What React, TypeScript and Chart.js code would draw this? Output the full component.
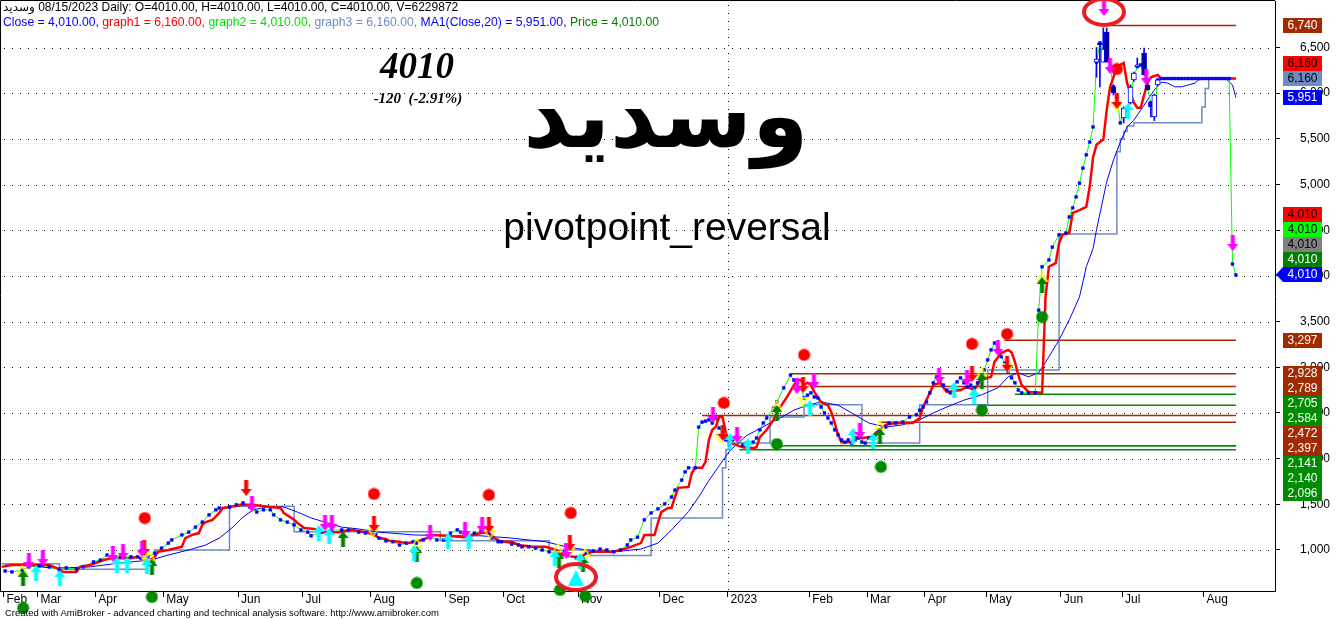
import React, { useEffect, useRef } from 'react';
import { Chart, registerables } from 'chart.js';

Chart.register(...registerables);

// ---------- DATA ----------
const monthLabels = ['Feb', 'Mar', 'Apr', 'May', 'Jun', 'Jul', 'Aug', 'Sep', 'Oct', 'Nov', 'Dec', '2023', 'Feb', 'Mar', 'Apr', 'May', 'Jun', 'Jul', 'Aug'];
const monthStartBars = [1, 11, 28, 48, 70, 89, 109, 131, 148, 170, 194, 214, 238, 255, 272, 290, 312, 330, 354];
const yearStartBar = 214;
const yTickValues = [1000, 1500, 2000, 2500, 3000, 3500, 4000, 4500, 5000, 5500, 6000, 6500];

// [bar index, close]
const closeSeries: number[][] = [
  [1, 770], [3, 760], [6, 780], [8, 815], [11, 825], [12, 835], [14, 815], [17, 780], [19, 805], [22, 790], [24, 815], [27, 870], [29, 890], [31, 945], [33, 925], [35, 925], [38, 925], [40, 925], [41, 910], [43, 925], [45, 965], [47, 1020], [49, 1075], [50, 1110], [53, 1165], [55, 1195], [57, 1250], [59, 1305], [61, 1385], [63, 1440], [64, 1460], [67, 1470], [69, 1495], [71, 1515], [73, 1470], [75, 1415], [77, 1440], [79, 1440], [80, 1385], [82, 1330], [84, 1305], [86, 1275], [88, 1220], [90, 1195], [91, 1155], [94, 1195], [97, 1220], [100, 1220], [102, 1220], [105, 1195], [107, 1185], [110, 1175], [111, 1130], [113, 1100], [115, 1090], [117, 1055], [119, 1075], [121, 1090], [122, 1075], [124, 1110], [126, 1140], [128, 1110], [130, 1110], [132, 1185], [134, 1220], [135, 1195], [137, 1165], [139, 1185], [141, 1210], [143, 1185], [144, 1130], [146, 1090], [147, 1090], [150, 1065], [152, 1055], [153, 1035], [155, 1035], [157, 1020], [159, 1000], [161, 980], [163, 965], [165, 980], [167, 945], [169, 910], [171, 925], [172, 965], [174, 990], [176, 1010], [178, 1000], [180, 980], [182, 1000], [184, 1055], [185, 1110], [187, 1140], [189, 1330], [191, 1405], [193, 1450], [195, 1505], [197, 1580], [198, 1655], [200, 1765], [201, 1855], [202, 1900], [204, 1900], [205, 2345], [206, 2400], [207, 2410], [208, 2425], [209, 2390], [210, 2445], [211, 2335], [212, 2280], [213, 2205], [214, 2150], [215, 2205], [216, 2235], [218, 2150], [219, 2170], [221, 2180], [222, 2225], [223, 2315], [224, 2390], [225, 2445], [227, 2555], [228, 2620], [230, 2775], [232, 2915], [233, 2860], [234, 2830], [235, 2775], [236, 2665], [237, 2695], [238, 2720], [239, 2675], [240, 2665], [241, 2565], [242, 2500], [243, 2445], [244, 2390], [245, 2315], [246, 2260], [247, 2205], [248, 2180], [249, 2205], [250, 2170], [251, 2205], [252, 2225], [253, 2180], [254, 2170], [255, 2225], [256, 2235], [257, 2260], [258, 2315], [260, 2345], [261, 2390], [263, 2390], [265, 2400], [267, 2455], [269, 2480], [270, 2530], [271, 2565], [272, 2620], [273, 2720], [274, 2830], [275, 2895], [276, 2860], [277, 2805], [278, 2750], [279, 2720], [280, 2785], [281, 2840], [282, 2885], [283, 2830], [284, 2785], [285, 2805], [286, 2775], [287, 2830], [288, 2895], [289, 2970], [290, 3080], [291, 3190], [292, 3265], [293, 3210], [294, 3115], [295, 3045], [296, 2950], [297, 2885], [298, 2830], [299, 2750], [300, 2720], [302, 2720], [304, 2720], [305, 3625], [306, 4100], [308, 4175], [309, 4315], [311, 4450], [313, 4470], [314, 4645], [315, 4745], [316, 4865], [317, 5015], [318, 5180], [319, 5325], [320, 5465], [321, 5630], [322, 6340], [323, 6550], [324, 6450], [325, 6420], [326, 6285], [327, 6070], [328, 5960], [329, 5675], [330, 5785], [331, 5815], [332, 5980], [333, 6175], [334, 6290], [335, 6310], [336, 6220], [337, 6055], [338, 5895], [339, 5785], [340, 6145], [341, 6160], [342, 6160], [343, 6160], [344, 6160], [345, 6160], [346, 6160], [347, 6160], [348, 6160], [349, 6160], [350, 6160], [351, 6160], [352, 6160], [353, 6160], [354, 6160], [355, 6160], [356, 6160], [357, 6160], [358, 6160], [359, 6160], [360, 6160], [361, 6160], [362, 4130], [363, 4010],
];

// visible candles in the June–July 2023 swing: [bar, open, high, low, close]
const candleSeries: number[][] = [
  [322, 6340, 6500, 6175, 6374], [323, 6550, 6561, 6068, 6528], [324, 6340, 6714, 6340, 6484], [325, 6670, 6714, 6340, 6340],
  [327, 6068, 6090, 5980, 6002], [330, 5729, 5850, 5674, 5838], [332, 5893, 6090, 5880, 6068], [333, 6145, 6230, 6130, 6221],
  [334, 6290, 6385, 6287, 6310], [336, 6440, 6495, 6199, 6199], [337, 6090, 6110, 6035, 6035], [338, 5904, 5910, 5740, 5849],
  [339, 5740, 5990, 5700, 5980], [340, 6090, 6150, 6080, 6145],
];

// graph1 (red)
const graph1Series: number[][] = [
  [0, 815], [3, 835], [7, 835], [10, 835], [14, 835], [16, 805], [18, 760], [22, 760], [23, 815], [26, 835], [30, 890], [32, 910], [38, 910], [40, 925], [42, 890], [43, 870], [45, 925], [46, 980], [49, 1000], [53, 1035], [54, 1130], [56, 1165], [58, 1185], [59, 1275], [60, 1305], [62, 1330], [64, 1405], [65, 1460], [67, 1470], [71, 1495], [74, 1495], [77, 1480], [79, 1470], [82, 1460], [83, 1405], [86, 1330], [87, 1295], [89, 1240], [92, 1230], [94, 1195], [99, 1195], [103, 1220], [108, 1185], [110, 1155], [111, 1130], [113, 1120], [114, 1100], [117, 1090], [119, 1075], [122, 1090], [125, 1130], [127, 1165], [131, 1155], [136, 1140], [141, 1185], [143, 1195], [145, 1130], [147, 1090], [150, 1090], [152, 1055], [156, 1035], [160, 1035], [163, 1000], [165, 945], [168, 925], [170, 925], [172, 965], [174, 980], [180, 980], [184, 1020], [188, 1075], [189, 1165], [192, 1165], [193, 1295], [194, 1415], [196, 1460], [197, 1460], [198, 1580], [199, 1680], [202, 1690], [203, 1845], [204, 1900], [206, 1900], [207, 1965], [208, 2205], [209, 2315], [210, 2345], [211, 2455], [212, 2455], [213, 2280], [214, 2170], [216, 2150], [218, 2125], [221, 2115], [222, 2125], [223, 2235], [225, 2315], [227, 2425], [229, 2565], [231, 2675], [233, 2805], [234, 2860], [235, 2860], [236, 2805], [237, 2830], [238, 2805], [239, 2730], [240, 2675], [241, 2620], [243, 2585], [244, 2510], [245, 2390], [246, 2260], [247, 2180], [250, 2180], [251, 2235], [253, 2225], [255, 2235], [256, 2235], [257, 2280], [259, 2335], [260, 2370], [263, 2390], [268, 2390], [270, 2445], [271, 2565], [273, 2720], [274, 2805], [276, 2830], [277, 2775], [278, 2730], [282, 2750], [284, 2785], [286, 2750], [287, 2805], [288, 2885], [290, 2885], [291, 2895], [292, 3060], [294, 3155], [296, 3190], [297, 3165], [298, 3060], [299, 2915], [300, 2805], [302, 2730], [306, 2720], [307, 3770], [308, 4100], [310, 4140], [311, 4360], [312, 4450], [314, 4470], [315, 4690], [317, 4720], [319, 4755], [320, 4975], [321, 5300], [322, 5435], [323, 5465], [324, 5490], [325, 5815], [326, 6070], [327, 6175], [328, 6285], [329, 6310], [330, 6330], [331, 6110], [332, 6000], [333, 5895], [334, 5840], [335, 5840], [336, 5980], [337, 6110], [338, 6175], [340, 6200], [341, 6160], [363, 6160],
];

// MA1(Close,20) (blue)
const maSeries: number[][] = [
  [1, 835], [9, 825], [14, 805], [19, 805], [26, 815], [32, 845], [38, 870], [44, 890], [49, 945], [55, 1000], [60, 1055], [64, 1130], [68, 1250], [71, 1360], [74, 1440], [78, 1470], [83, 1470], [87, 1415], [91, 1350], [96, 1295], [100, 1250], [105, 1230], [111, 1195], [121, 1165], [131, 1155], [141, 1155], [150, 1130], [160, 1090], [166, 1035], [172, 1000], [180, 980], [188, 1010], [193, 1075], [197, 1220], [202, 1420], [205, 1580], [208, 1760], [211, 1920], [214, 2080], [219, 2250], [225, 2370], [229, 2445], [233, 2530], [237, 2585], [241, 2620], [246, 2585], [250, 2500], [255, 2390], [260, 2345], [265, 2370], [270, 2425], [274, 2500], [278, 2565], [283, 2640], [288, 2695], [293, 2775], [296, 2895], [299, 2940], [302, 2895], [305, 2940], [308, 3115], [311, 3300], [314, 3520], [317, 3770], [319, 4100], [321, 4300], [322, 4505], [325, 5030], [327, 5270], [329, 5465], [331, 5630], [333, 5705], [335, 5815], [337, 5925], [339, 6035], [341, 6120], [343, 6110], [345, 6070], [347, 6070], [349, 6090], [351, 6110], [352, 6145], [355, 6160], [360, 6160], [362, 6090], [363, 5951],
];

// graph3 (blue-grey step line)
const graph3Series: number[][] = [
  [0, 850], [17, 790], [43, 860], [45, 1000], [67, 1480], [86, 1200], [129, 1100], [161, 1000], [173, 940], [191, 1350], [212, 1900], [213, 2100], [214, 2170], [226, 2455], [236, 2590], [253, 2170], [270, 2590], [290, 2970], [311, 4460], [328, 5360], [329, 5500], [330, 5580], [331, 5640], [333, 5675], [352, 5675], [353, 5850], [354, 6050], [355, 6160], [363, 6160],
];

// pivot levels
const pivotLevels = [6740, 3297, 2928, 2789, 2705, 2584, 2472, 2397, 2141, 2140, 2096];
const pivotStartBars = [324, 295, 232, 239, 298, 287, 206, 258, 228, 250, 217];
const pivotKinds = ['high', 'high', 'high', 'high', 'low', 'low', 'high', 'high', 'low', 'low', 'low'];

// right-hand value labels
const labelValues = [6740, 6160, 6160, 5951, 4010, 4010, 4010, 4010, 4010, 3297, 2928, 2789, 2705, 2584, 2472, 2397, 2141, 2140, 2096];
const labelSeries = ['pivotHigh', 'graph1', 'graph3', 'ma', 'signal', 'graph2', 'grey', 'price', 'close', 'pivotHigh', 'pivotHigh', 'pivotHigh', 'pivotLow', 'pivotLow', 'pivotHigh', 'pivotHigh', 'pivotLow', 'pivotLow', 'pivotLow'];

// markers [bar, value]
const magentaDownMarks: number[][] = [[8, 880], [12.1, 912], [32.7, 956], [35.7, 978], [41.3, 1011], [73.6, 1504], [95.1, 1296], [97.1, 1296], [126, 1186], [136.3, 1219], [141.3, 1274], [166, 989], [209.2, 2478], [216.3, 2259], [233.9, 2795], [238.9, 2850], [252.4, 2303], [275.7, 2905], [283.9, 2883], [293, 3211], [324.2, 6933], [326, 6298], [336.6, 6177], [362.1, 4360]];
const redDownMarks: number[][] = [[41.9, 1022], [71.9, 1679], [109.5, 1285], [143.3, 1274], [167.1, 1077], [212.1, 2281], [235.7, 2806], [285.4, 2926], [295.7, 3036], [328, 5915]];
const cyanUpMarks: number[][] = [[10.1, 748], [17.1, 694], [33.9, 836], [36.9, 836], [42.7, 825], [93.3, 1186], [96.3, 1153], [121.3, 967], [131.3, 1099], [137.4, 1099], [162.7, 912], [170.1, 880], [214.2, 2193], [219.5, 2138], [237.7, 2554], [250.4, 2248], [256.3, 2193], [280.1, 2751], [286, 2686], [331.3, 5805]];
const greenUpMarks: number[][] = [[6.3, 694], [44.2, 814], [100.4, 1120], [122.1, 956], [163.9, 891], [171, 847], [228, 2500], [258.3, 2248], [288.3, 2850], [306, 3901]];
const yellowUpMarks: number[][] = [[6, 781], [43.6, 934], [122.1, 1077], [163.6, 1022], [171.6, 967], [228, 2587], [258.3, 2368], [288.3, 2948], [306, 3988]];
const yellowDownMarks: number[][] = [[41.6, 934], [109.2, 1186], [143.6, 1164], [167.1, 978], [211.3, 2226], [235.7, 2620], [296, 2992], [328, 5849]];
const redDotMarks: number[][] = [[42.1, 1350], [109.5, 1613], [143.3, 1602], [167.4, 1405], [212.4, 2609], [236, 3135], [285.4, 3255], [295.7, 3364], [328, 6265]];
const greenDotMarks: number[][] = [[6.3, 365], [44.2, 486], [122.1, 639], [164.2, 562], [171.6, 496], [228, 2160], [258.6, 1909], [288.3, 2532], [306, 3550]];
const bigCyanMarks: number[][] = [[168.9, 694]];
const ringMarks: number[][] = [[324.2, 6889], [168.9, 704]];

const volume = 6229872;

// ---------- STYLE ----------
const BROWN = '#a32a00';
const PGREEN = '#008a00';
const STEEL = '#6e8cc4';
const labelStyles: Record<string, { bg: string; fg: string }> = {
  pivotHigh: { bg: BROWN, fg: '#ffffff' },
  pivotLow: { bg: '#008c00', fg: '#ffffff' },
  graph1: { bg: '#ff0000', fg: '#000000' },
  graph3: { bg: STEEL, fg: '#000000' },
  ma: { bg: '#0000ff', fg: '#ffffff' },
  signal: { bg: '#ff0000', fg: '#000000' },
  graph2: { bg: '#00ff00', fg: '#000000' },
  grey: { bg: '#808080', fg: '#000000' },
  price: { bg: '#008000', fg: '#ffffff' },
  close: { bg: '#0000ff', fg: '#ffffff' },
};

const toPts = (arr: number[][]) => arr.map(([x, y]) => ({ x, y }));
const fmt2 = (v: number) => v.toLocaleString('en-US', { minimumFractionDigits: 2, maximumFractionDigits: 2 });

function makeCanvas(w: number, h: number, draw: (g: CanvasRenderingContext2D) => void) {
  const c = document.createElement('canvas');
  c.width = w;
  c.height = h;
  const g = c.getContext('2d')!;
  draw(g);
  return c;
}

function arrowCanvas(color: string, up: boolean) {
  return makeCanvas(11, 16, (g) => {
    g.fillStyle = color;
    g.beginPath();
    if (up) {
      g.moveTo(5.5, 0); g.lineTo(11, 7); g.lineTo(7.5, 7); g.lineTo(7.5, 16); g.lineTo(3.5, 16); g.lineTo(3.5, 7); g.lineTo(0, 7);
    } else {
      g.moveTo(3.5, 0); g.lineTo(7.5, 0); g.lineTo(7.5, 9); g.lineTo(11, 9); g.lineTo(5.5, 16); g.lineTo(0, 9); g.lineTo(3.5, 9);
    }
    g.closePath();
    g.fill();
  });
}

function triCanvas(up: boolean) {
  return makeCanvas(11, 10, (g) => {
    g.strokeStyle = '#ffff00';
    g.lineWidth = 1.4;
    g.beginPath();
    if (up) { g.moveTo(5.5, 1); g.lineTo(10, 9); g.lineTo(1, 9); }
    else { g.moveTo(1, 1); g.lineTo(10, 1); g.lineTo(5.5, 9); }
    g.closePath();
    g.stroke();
  });
}

function dotCanvas(color: string) {
  return makeCanvas(13, 13, (g) => {
    g.fillStyle = color;
    g.beginPath();
    g.arc(6.5, 6.5, 6, 0, Math.PI * 2);
    g.fill();
  });
}

function bigTriCanvas() {
  return makeCanvas(16, 16, (g) => {
    g.fillStyle = '#00ffff';
    g.beginPath();
    g.moveTo(8, 0); g.lineTo(16, 16); g.lineTo(0, 16);
    g.closePath();
    g.fill();
  });
}

function ringCanvas() {
  return makeCanvas(46, 32, (g) => {
    g.strokeStyle = '#ec1c24';
    g.lineWidth = 4;
    g.beginPath();
    g.ellipse(23, 16, 20, 13, 0, 0, Math.PI * 2);
    g.stroke();
  });
}

const dotGridPlugin = {
  id: 'dotGrid',
  beforeDatasetsDraw(chart: any) {
    const { ctx, chartArea: a, scales } = chart;
    const x = scales.x;
    const y = scales.y;
    ctx.save();
    ctx.strokeStyle = '#000000';
    ctx.lineWidth = 1;
    ctx.setLineDash([1, 7]);
    for (const v of yTickValues) {
      const py = Math.round(y.getPixelForValue(v)) + 0.5;
      ctx.beginPath();
      ctx.moveTo(a.left + 4, py);
      ctx.lineTo(a.right, py);
      ctx.stroke();
    }
    const px = Math.round(x.getPixelForValue(yearStartBar - 0.5)) + 0.5;
    ctx.beginPath();
    ctx.moveTo(px, a.top + 4);
    ctx.lineTo(px, a.bottom);
    ctx.stroke();
    ctx.setLineDash([]);
    ctx.beginPath();
    ctx.moveTo(a.left + 0.5, a.bottom);
    ctx.lineTo(a.left + 0.5, 0.5);
    ctx.lineTo(a.right, 0.5);
    ctx.stroke();
    ctx.restore();
  },
};

const valueLabelsPlugin = {
  id: 'valueLabels',
  afterDraw(chart: any) {
    const { ctx, chartArea: a, scales } = chart;
    const y = scales.y;
    const h = 15;
    const items = labelValues.map((v, i) => ({ v, key: labelSeries[i], i, py: y.getPixelForValue(v) }));
    const close = items.find((it) => it.key === 'close')!;
    const closeVal = close.v;
    const above = items.filter((it) => it !== close && it.v >= closeVal).sort((p, q) => (p.v - q.v) || (q.i - p.i));
    const below = items.filter((it) => it !== close && it.v < closeVal).sort((p, q) => (q.v - p.v) || (p.i - q.i));
    let prev = close.py;
    for (const it of above) { it.py = Math.min(it.py, prev - h); prev = it.py; }
    prev = close.py;
    for (const it of below) { it.py = Math.max(it.py, prev + h); prev = it.py; }
    const bx = a.right + 8;
    const bw = 39;
    ctx.save();
    ctx.font = '12px "Liberation Sans", Arial, sans-serif';
    ctx.textAlign = 'center';
    ctx.textBaseline = 'middle';
    for (const it of items) {
      const st = labelStyles[it.key];
      const top = Math.round(it.py - 7.5);
      ctx.fillStyle = st.bg;
      ctx.fillRect(bx, top, bw, h);
      if (it.key === 'close') {
        ctx.beginPath();
        ctx.moveTo(a.right + 1, top + h / 2);
        ctx.lineTo(bx, top);
        ctx.lineTo(bx, top + h);
        ctx.closePath();
        ctx.fill();
      }
      ctx.fillStyle = st.fg;
      ctx.fillText(Math.round(it.v).toLocaleString('en-US'), bx + bw / 2, top + h / 2 + 0.5);
    }
    ctx.restore();
  },
};

export default function App() {
  const canvasRef = useRef<HTMLCanvasElement | null>(null);

  useEffect(() => {
    document.body.style.margin = '0';
    const canvas = canvasRef.current;
    if (!canvas) return;
    const lastBar = closeSeries[closeSeries.length - 1][0];

    const markerSet = (data: number[][], style: HTMLCanvasElement) => ({
      data: toPts(data),
      showLine: false,
      pointStyle: style,
      pointRadius: 22,
      pointHoverRadius: 22,
      borderWidth: 0,
      clip: false as any,
      order: 0,
    });

    const lineSet = (data: number[][], color: string, width: number, order: number, extra: any = {}) => ({
      data: toPts(data),
      showLine: true,
      borderColor: color,
      backgroundColor: color,
      borderWidth: width,
      pointRadius: 0,
      pointHoverRadius: 0,
      tension: 0,
      order,
      ...extra,
    });

    const pivotSets = pivotLevels.map((lv, i) =>
      lineSet([[pivotStartBars[i], lv], [lastBar, lv]], pivotKinds[i] === 'high' ? BROWN : PGREEN, 1.5, 7)
    );

    const datasets: any[] = [
      markerSet(ringMarks, ringCanvas()),
      markerSet(bigCyanMarks, bigTriCanvas()),
      markerSet(magentaDownMarks, arrowCanvas('#ff00ff', false)),
      markerSet(redDownMarks, arrowCanvas('#ff0000', false)),
      markerSet(cyanUpMarks, arrowCanvas('#00ffff', true)),
      markerSet(greenUpMarks, arrowCanvas('#008000', true)),
      markerSet(yellowUpMarks, triCanvas(true)),
      markerSet(yellowDownMarks, triCanvas(false)),
      markerSet(redDotMarks, dotCanvas('#ff0000')),
      markerSet(greenDotMarks, dotCanvas('#008a00')),
      {
        type: 'bar',
        data: candleSeries.map(([b, o, _h, _l, c]) => ({ x: b, y: [o, c] })),
        barThickness: 5,
        grouped: false,
        borderSkipped: false,
        borderWidth: 1,
        borderColor: '#0000ff',
        backgroundColor: candleSeries.map(([, o, , , c]) => (o > c ? '#000080' : '#ffffff')),
        order: 0.8,
      },
      {
        type: 'bar',
        data: candleSeries.map(([b, , h, l]) => ({ x: b, y: [l, h] })),
        barThickness: 1,
        grouped: false,
        borderWidth: 0,
        backgroundColor: '#0000ff',
        order: 0.9,
      },
      {
        data: toPts(closeSeries),
        showLine: false,
        pointStyle: 'rect',
        pointRadius: 2,
        pointHoverRadius: 2,
        backgroundColor: '#0000ff',
        borderColor: '#0000ff',
        borderWidth: 0.5,
        order: 1,
      },
      lineSet(graph1Series, '#ff0000', 2.5, 2),
      lineSet(closeSeries, '#00ff00', 1, 3),
      lineSet(maSeries, '#0000ff', 1, 4),
      lineSet(graph3Series, STEEL, 1.5, 5, { stepped: true }),
      ...pivotSets,
    ];

    const font = { family: '"Liberation Sans", Arial, sans-serif', size: 12, lineHeight: 1 };

    const chart = new Chart(canvas, {
      type: 'scatter',
      data: { datasets },
      options: {
        animation: false,
        responsive: false,
        events: [],
        layout: { autoPadding: false, padding: { top: 1, left: 0, right: 0, bottom: 0 } },
        plugins: { legend: { display: false }, tooltip: { enabled: false } },
        scales: {
          x: {
            type: 'linear',
            min: -0.5,
            max: 374.5,
            offset: false,
            afterBuildTicks: (s: any) => { s.ticks = monthStartBars.map((b) => ({ value: b - 0.5 })); },
            afterFit: (s: any) => { s.height = 28; s.paddingLeft = 0; s.paddingRight = 0; s.paddingTop = 0; s.paddingBottom = 0; },
            ticks: {
              autoSkip: false,
              maxRotation: 0,
              minRotation: 0,
              align: 'start',
              labelOffset: 3,
              padding: -3,
              color: '#000000',
              font,
              callback: (_v: any, i: number) => monthLabels[i],
            },
            grid: { offset: false, drawOnChartArea: false, drawTicks: true, tickLength: 6, tickColor: '#000000' },
            border: { display: true, color: '#000000' },
          },
          y: {
            type: 'linear',
            position: 'right',
            min: 551,
            max: 7009,
            afterBuildTicks: (s: any) => { s.ticks = yTickValues.map((v) => ({ value: v })); },
            afterFit: (s: any) => { s.width = 61; s.paddingTop = 0; s.paddingBottom = 0; s.paddingLeft = 0; s.paddingRight = 0; },
            ticks: {
              padding: 20,
              color: '#000000',
              font,
              callback: (v: any) => Number(v).toLocaleString('en-US'),
            },
            grid: { drawOnChartArea: false, drawTicks: true, tickLength: 5, tickColor: '#000000' },
            border: { display: true, color: '#000000' },
          },
        },
      } as any,
      plugins: [dotGridPlugin, valueLabelsPlugin],
    });

    return () => chart.destroy();
  }, []);

  const last = closeSeries[closeSeries.length - 1][1];
  const prevClose = closeSeries[closeSeries.length - 2][1];
  const chg = last - prevClose;
  const pct = (chg / prevClose) * 100;
  const lastOf = (s: number[][]) => s[s.length - 1][1];

  const sans = '"Liberation Sans", Arial, "DejaVu Sans", sans-serif';
  const serif = '"Liberation Serif", "Times New Roman", serif';

  return (
    <div style={{ position: 'fixed', left: 0, top: 0, width: 1336, height: 619, background: '#ffffff', overflow: 'hidden' }}>
      <canvas ref={canvasRef} width={1336} height={619} style={{ position: 'absolute', left: 0, top: 0, width: 1336, height: 619 }} />
      <div style={{ position: 'absolute', left: 3, top: 0, font: `12px ${sans}`, lineHeight: '14px', whiteSpace: 'nowrap', color: '#000' }}>
        <bdi>وسدید</bdi> 08/15/2023 Daily: O={last.toFixed(2)}, H={last.toFixed(2)}, L={last.toFixed(2)}, C={last.toFixed(2)}, V={volume}
      </div>
      <div style={{ position: 'absolute', left: 3, top: 15, font: `12.2px ${sans}`, lineHeight: '14px', whiteSpace: 'nowrap' }}>
        <span style={{ color: '#0000ff' }}>Close = {fmt2(last)}, </span>
        <span style={{ color: '#ff0000' }}>graph1 = {fmt2(lastOf(graph1Series))}, </span>
        <span style={{ color: '#00e000' }}>graph2 = {fmt2(last)}, </span>
        <span style={{ color: STEEL }}>graph3 = {fmt2(lastOf(graph3Series))}, </span>
        <span style={{ color: '#0000ff' }}>MA1(Close,20) = {fmt2(lastOf(maSeries))}, </span>
        <span style={{ color: '#008000' }}>Price = {fmt2(last)}</span>
      </div>
      <div style={{ position: 'absolute', left: 317, width: 200, top: 47, textAlign: 'center', font: `italic bold 37px ${serif}`, lineHeight: '37px', color: '#000' }}>
        {last}
      </div>
      <div style={{ position: 'absolute', left: 318, width: 200, top: 91, textAlign: 'center', font: `italic bold 15px ${serif}`, lineHeight: '15px', color: '#000', whiteSpace: 'pre' }}>
        {`${chg}  (${pct.toFixed(2)}%)`}
      </div>
      <div dir="rtl" style={{ position: 'absolute', left: 466, width: 400, top: 70, textAlign: 'center', font: `bold 91px "DejaVu Sans", sans-serif`, lineHeight: '91px', color: '#000' }}>
        وسدید
      </div>
      <div style={{ position: 'absolute', left: 417, width: 500, top: 207, textAlign: 'center', font: `39px ${sans}`, lineHeight: '39px', color: '#000' }}>
        pivotpoint_reversal
      </div>
      <div style={{ position: 'absolute', left: 5, top: 608, font: `9.5px ${sans}`, lineHeight: '10px', whiteSpace: 'nowrap', color: '#000' }}>
        Created with AmiBroker - advanced charting and technical analysis software. http://www.amibroker.com
      </div>
    </div>
  );
}
